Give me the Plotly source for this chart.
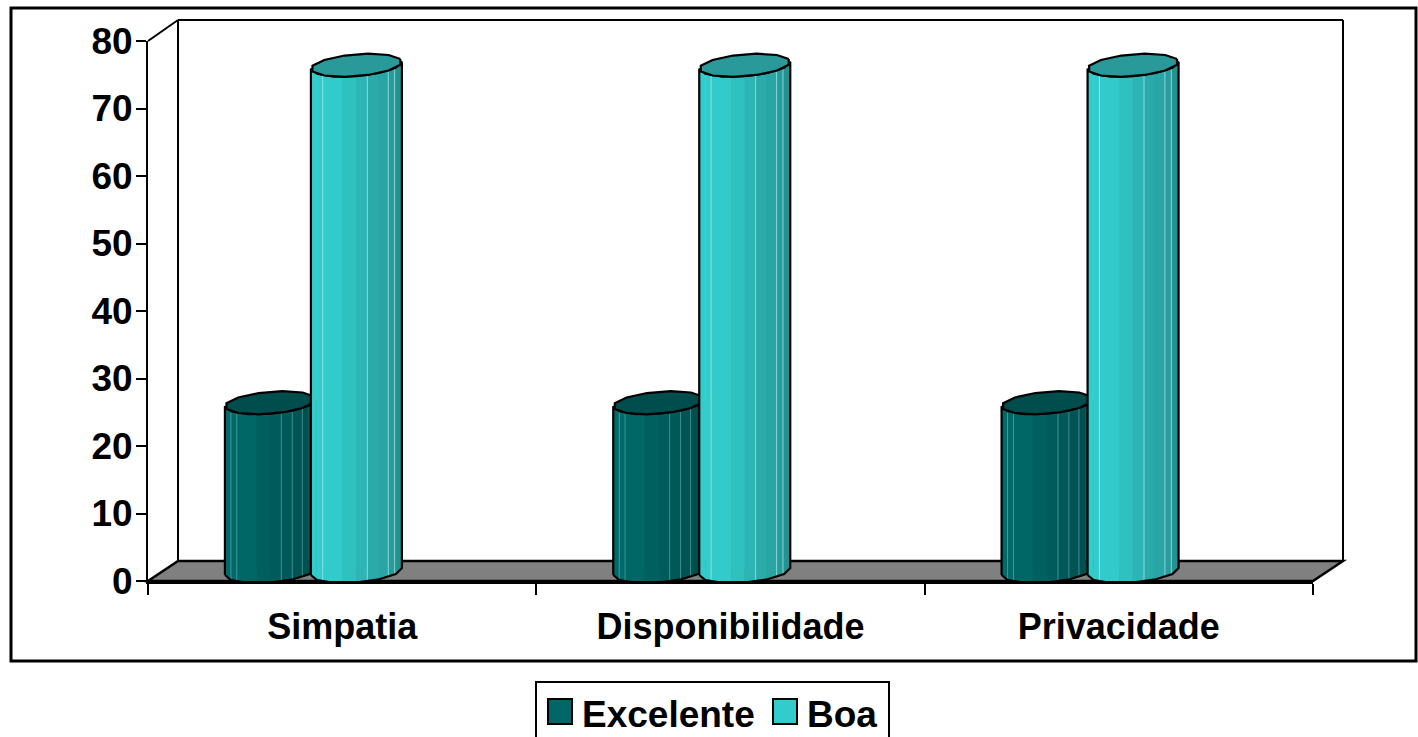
import math
import plotly.graph_objects as go

categories = ["Simpatia", "Disponibilidade", "Privacidade"]
excelente = [25, 25, 25]
boa = [75, 75, 75]
y_ticks = [0, 10, 20, 30, 40, 50, 60, 70, 80]

W, H = 1418, 737
PL, PR, PT, PB = 148, 1313, 41, 581
SX = (PR - PL) / 3
SY = (PB - PT) / 80
DEPTH_X, DEPTH_Y = 30, 20
INK = "#000000"
FONT = dict(family="Liberation Sans, Arial, sans-serif", size=36, color="#000000", weight=700)
FONT_Y = dict(FONT, size=37)
FONT_LEG = dict(FONT, size=37)

def fx(p): return (p - PL) / (PR - PL)
def fy(p): return (PB - p) / (PB - PT)

A = 45.5 / SX       # half width in category units
B = 11 / SY         # ellipse half height in value units
TILT = 3.5 / SY
BASE = 9.5 / SY     # centre of the cylinder foot above the front edge

EDGES = [0, .066, .13, .35, .50, .62, .74, .85, .92, 1]
series = [
    dict(name="Excelente", vals=excelente, off=-71.75 / SX, color="#006666", cap="#004d4d",
         strips=["#006a6a", "#006a6a", "#006666", "#006060", "#005c5c", "#005858", "#005454", "#005050", "#004c4c"],
         hilite=[1, 2, 5, 6, 7],
         light="rgba(120,190,190,0.55)"),
    dict(name="Boa", vals=boa, off=14.25 / SX, color="#33cccc", cap="#299999",
         strips=["#33cccc", "#33cccc", "#32caca", "#2fc0c0", "#2db5b5", "#2baaaa", "#2aa5a5", "#289c9c", "#259292"],
         hilite=[2, 5, 7, 8],
         light="rgba(170,235,235,0.75)"),
]

def rim(cx, cy, steps=12):
    xs, ys = [], []
    for k in range(steps):
        t = 2 * math.pi * k / steps + math.pi / 12
        xs.append(cx + A * math.cos(t))
        ys.append(cy + TILT * math.cos(t) + B * math.sin(t))
    xs.append(xs[0]); ys.append(ys[0])
    return xs, ys

fig = go.Figure()

for s in series:
    fig.add_trace(go.Bar(
        name=s["name"], x=categories, y=s["vals"], base=BASE,
        offset=s["off"] - A * 0.8, width=A * 1.6,
        marker=dict(color=s["color"], line=dict(width=0)),
        showlegend=True, hoverinfo="skip"))

FRONT = [0, .067, .25, .5, .75, .933, 1]

def front_y(f, cy):
    c = 2 * f - 1
    return cy + TILT * c - B * math.sqrt(max(0, 1 - c * c))

def poly(xs, ys, **kw):
    fig.add_trace(go.Scatter(x=xs, y=ys, xaxis="x2", yaxis="y", mode="lines",
                             showlegend=False, hoverinfo="skip", **kw))

for i in range(len(categories)):
    for s in series:
        cx = i + s["off"]
        left = cx - A
        v = s["vals"][i]
        top = BASE + v
        X = lambda f: left + 2 * A * f
        for j, col in enumerate(s["strips"]):
            f0, f1 = EDGES[j], EDGES[j + 1]
            poly([X(f0), X(f1), X(f1), X(f0), X(f0)],
                 [front_y(f0, BASE), front_y(f1, BASE), front_y(f1, top), front_y(f0, top), front_y(f0, BASE)],
                 fill="toself", fillcolor=col, line=dict(color=col, width=0.5))
        for j in s["hilite"]:
            f = EDGES[j]
            poly([X(f), X(f)], [front_y(f, BASE), front_y(f, top)], line=dict(color=s["light"], width=1))
        ox = [X(f) for f in FRONT] + [X(f) for f in reversed(FRONT)] + [X(0)]
        oy = [front_y(f, BASE) for f in FRONT] + [front_y(f, top) for f in reversed(FRONT)] + [front_y(0, BASE)]
        poly(ox, oy, line=dict(color=INK, width=2.2))
        cxs, cys = rim(cx, top)
        poly(cxs, cys, fill="toself", fillcolor=s["cap"], line=dict(color=INK, width=2.2))

def rect(x0, y0, x1, y1, **kw):
    return dict(type="rect", xref="paper", yref="paper", x0=fx(x0), x1=fx(x1), y0=fy(y0), y1=fy(y1), **kw)

def seg(x0, y0, x1, y1, w=2):
    return dict(type="line", xref="paper", yref="paper", x0=fx(x0), x1=fx(x1), y0=fy(y0), y1=fy(y1),
                line=dict(color=INK, width=w), layer="below")

shapes = [
    rect(11, 8, 1416, 661, line=dict(color=INK, width=3), fillcolor="white", layer="below"),
    seg(PL + DEPTH_X, PT - DEPTH_Y - 1, PR + DEPTH_X, PT - DEPTH_Y - 1),
    seg(PL + DEPTH_X, PT - DEPTH_Y - 1, PL + DEPTH_X, PB - DEPTH_Y),
    seg(PR + DEPTH_X, PT - DEPTH_Y - 1, PR + DEPTH_X, PB - DEPTH_Y),
    seg(PL, PT, PL + DEPTH_X, PT - DEPTH_Y - 1),
    dict(type="path", xref="paper", yref="paper", layer="below", fillcolor="#808080",
         line=dict(color=INK, width=2.5),
         path=f"M{fx(PL)},{fy(PB)} L{fx(PL+DEPTH_X)},{fy(PB-DEPTH_Y)} L{fx(PR+DEPTH_X)},{fy(PB-DEPTH_Y)} L{fx(PR)},{fy(PB)} Z"),
    rect(536, 682, 889, 760, line=dict(color=INK, width=2), fillcolor="white", layer="below"),
    rect(548, 699, 572, 724, line=dict(color=INK, width=2), fillcolor="#006666", layer="above"),
    rect(773, 699, 797, 724, line=dict(color=INK, width=2), fillcolor="#33cccc", layer="above"),
]

fig.update_layout(
    width=W, height=H, autosize=False,
    margin=dict(l=PL, r=W - PR, t=PT, b=H - PB, pad=0, autoexpand=False),
    paper_bgcolor="white", plot_bgcolor="rgba(0,0,0,0)",
    barmode="overlay", font=FONT, shapes=shapes,
    xaxis=dict(type="category", categoryorder="array", categoryarray=categories,
               range=[-0.5, 2.5], tickson="boundaries", ticks="outside", ticklen=11, tickwidth=1.5,
               tickcolor=INK, showline=True, linecolor=INK, linewidth=3, showgrid=False, zeroline=False,
               tickfont=FONT, ticklabelstandoff=12),
    xaxis2=dict(overlaying="x", anchor="y", range=[-0.5, 2.5], visible=False),
    yaxis=dict(range=[0, 80], tickmode="array", tickvals=y_ticks, ticks="outside", ticklen=10, tickwidth=1.5,
               tickcolor=INK, showline=True, linecolor=INK, linewidth=2, showgrid=False, zeroline=False,
               tickfont=FONT_Y, ticklabelstandoff=-4),
    legend=dict(orientation="h", x=fx(542), y=fy(682), xanchor="left", yanchor="top",
                bgcolor="rgba(0,0,0,0)", borderwidth=0, font=FONT_LEG,
                entrywidth=180, entrywidthmode="pixels", itemclick=False, itemdoubleclick=False),
)

fig.write_html("out.html", config=dict(displayModeBar=False),
               post_script="document.body.style.margin='0';document.body.style.overflow='hidden';")
